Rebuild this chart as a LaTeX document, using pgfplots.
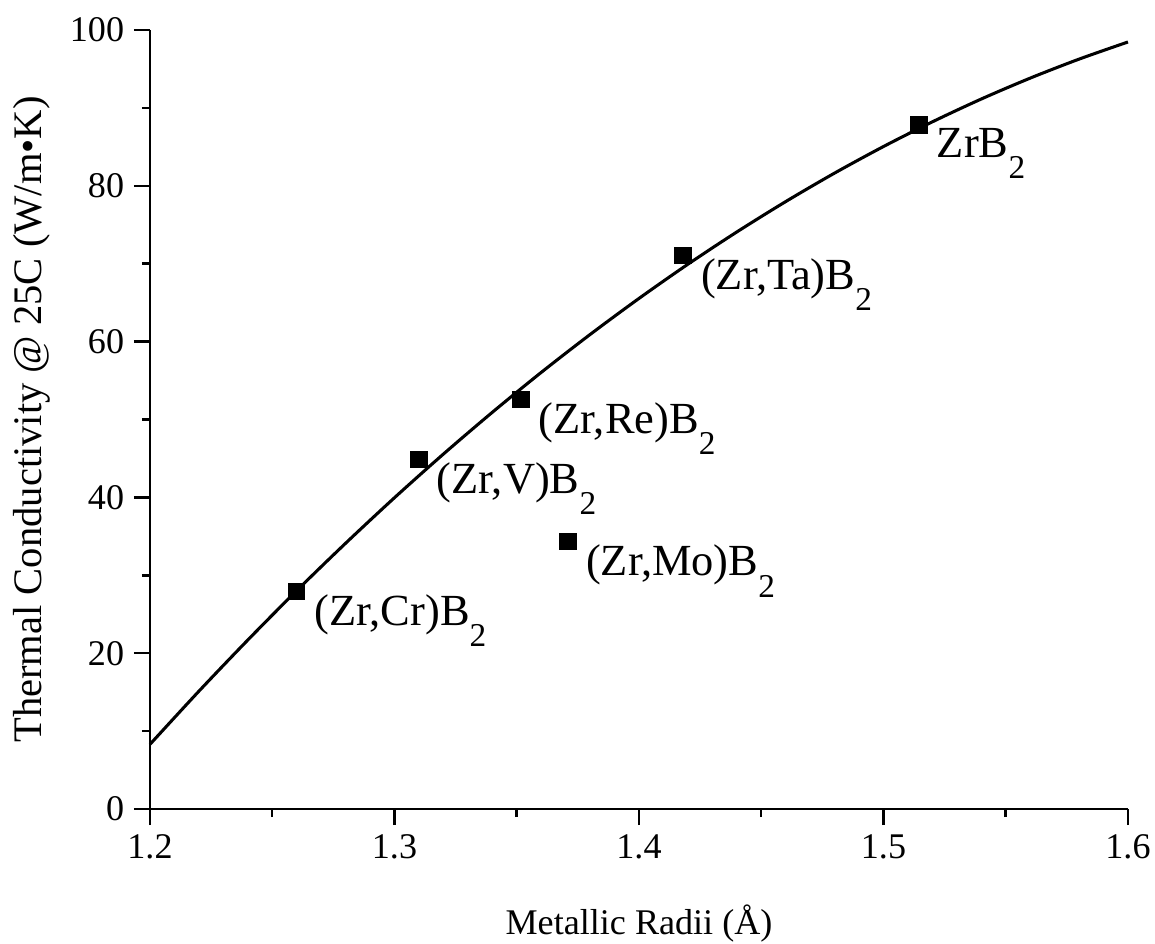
\documentclass[border=0pt]{standalone}
\usepackage{fontspec}
\setmainfont{Liberation Serif}
\usepackage{pgfplots}
\pgfplotsset{compat=1.18}
\newcommand{\sub}[1]{\raisebox{-7.6pt}{\fontsize{12}{14}\selectfont #1}}
\begin{document}
\begin{tikzpicture}
\begin{axis}[
  name=ax,
  at={(0,0)}, anchor=south west,
  scale only axis,
  width=352.08pt, height=280.44pt,
  xmin=1.2, xmax=1.6, ymin=0, ymax=100,
  axis lines*=left,
  axis line style={line width=0.9pt},
  xtick={1.2,1.3,1.4,1.5,1.6},
  ytick={0,20,40,60,80,100},
  minor xtick={1.25,1.35,1.45,1.55},
  minor ytick={10,30,50,70,90},
  tick align=outside,
  major tick length=5.8pt,
  minor tick length=2.9pt,
  tick style={line width=0.9pt, black},
  xticklabel style={/pgf/number format/fixed, /pgf/number format/precision=1},
  /pgf/number format/assume math mode=true,
  ticklabel style={font=\fontsize{13}{15}\selectfont},
  xlabel={Metallic Radii (Å)},
  ylabel={Thermal Conductivity @ 25C (W/m•K)},
  xlabel style={font=\fontsize{13}{15}\selectfont, at={(axis description cs:0.5,-0.1476)}, anchor=center},
  ylabel style={font=\fontsize{14.6}{17}\selectfont, at={(axis description cs:-0.1207,0.5)}, anchor=center, rotate=0},
  clip=false,
]
\addplot[black, line width=1.1pt, smooth, no marks] coordinates {
(1.20,8.30) (1.22,15.12) (1.24,21.69) (1.26,28.03) (1.28,34.11)
(1.30,39.96) (1.32,45.56) (1.34,50.92) (1.36,56.04) (1.38,60.91)
(1.40,65.54) (1.42,69.93) (1.44,74.07) (1.46,77.97) (1.48,81.63)
(1.50,85.04) (1.52,88.21) (1.54,91.14) (1.56,93.82) (1.58,96.26)
(1.60,98.46)
};
\addplot[only marks, mark=square*, mark size=2.9pt, black] coordinates {
(1.260,27.9) (1.310,44.9) (1.3517,52.6) (1.371,34.3) (1.418,71.1) (1.5145,87.8)
};
\begin{scope}[every node/.style={anchor=north west, inner sep=0pt, xshift=6.3pt, yshift=-1pt, font=\fontsize{16}{19}\selectfont}]
\node at (axis cs:1.260,27.9) {(Zr,Cr)B\sub{2}};
\node at (axis cs:1.310,44.9) {(Zr,V)B\sub{2}};
\node at (axis cs:1.3517,52.6) {(Zr,Re)B\sub{2}};
\node at (axis cs:1.371,34.3) {(Zr,Mo)B\sub{2}};
\node at (axis cs:1.418,71.1) {(Zr,Ta)B\sub{2}};
\node at (axis cs:1.5145,87.8) {ZrB\sub{2}};
\end{scope}
\end{axis}
\pgfresetboundingbox
\path (ax.south west) ++(-54pt,-48.6pt) rectangle ++(415.8pt,339.84pt);
\end{tikzpicture}
\end{document}
